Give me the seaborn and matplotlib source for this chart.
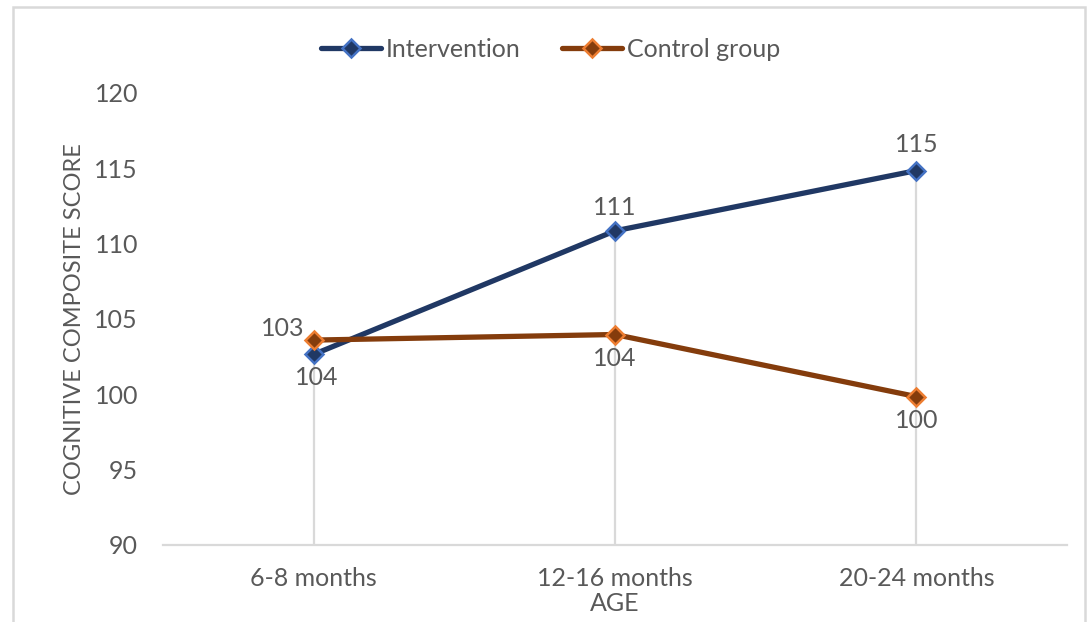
import matplotlib
matplotlib.use("Agg")
import matplotlib.pyplot as plt
from matplotlib.patches import Rectangle
import numpy as np
import pandas as pd
import seaborn as sns

# Data
ages = ["6-8 months", "12-16 months", "20-24 months"]
intervention = [102.65, 110.85, 114.85]
control = [103.6, 103.97, 99.85]
series_names = ["Intervention", "Control group"]

y_ticks = [90, 95, 100, 105, 110, 115, 120]

sns.set_theme(style="white")
plt.rcParams["font.family"] = ["Lato", "DejaVu Sans"]

text_color = "#595959"
grid_color = "#D9D9D9"
line_colors = {"Intervention": "#203864", "Control group": "#843C0C"}
edge_colors = {"Intervention": "#4472C4", "Control group": "#ED7D31"}
fs = 18

df = pd.DataFrame({
    "age": ages * 2,
    "score": intervention + control,
    "group": [series_names[0]] * 3 + [series_names[1]] * 3,
})

fig = plt.figure(figsize=(10.89, 6.22), dpi=100)
ax = fig.add_axes([0.1497, 0.1238, 0.8301, 0.7267])

# drop lines from the highest point at each age down to the axis
tops = np.maximum(intervention, control)
ax.vlines(range(len(ages)), 90, tops, color=grid_color, lw=1.6, zorder=1)

for name in series_names:
    sub = df[df["group"] == name]
    sns.lineplot(data=sub, x="age", y="score", ax=ax, color=line_colors[name],
                 linewidth=3.8, marker="D", markersize=9,
                 markerfacecolor=line_colors[name],
                 markeredgecolor=edge_colors[name], markeredgewidth=1.8,
                 label=name, zorder=3, sort=False)

# value labels: intervention above, control below
int_offsets = [(-22, 19), (0, 17), (0, 19)]
ctl_offsets = [(2, -27), (0, -17), (0, -17)]
for i, v in enumerate(intervention):
    ax.annotate(f"{v:.0f}", (i, v), xytext=int_offsets[i], textcoords="offset points",
                ha="center", va="center", fontsize=fs, color=text_color)
for i, v in enumerate(control):
    ax.annotate(f"{v:.0f}", (i, v), xytext=ctl_offsets[i], textcoords="offset points",
                ha="center", va="center", fontsize=fs, color=text_color)

ax.set_xlim(-0.5, len(ages) - 0.5)
ax.set_ylim(90, 120)
ax.set_yticks(y_ticks)
ax.set_xticks(range(len(ages)))
ax.set_xticklabels(ages)
ax.tick_params(axis="both", length=0, labelsize=fs, labelcolor=text_color)
ax.tick_params(axis="y", pad=18)
ax.tick_params(axis="x", pad=16)

for s in ["top", "right", "left"]:
    ax.spines[s].set_visible(False)
ax.spines["bottom"].set_color(grid_color)
ax.spines["bottom"].set_linewidth(1.6)
ax.grid(False)

ax.set_xlabel("AGE", fontsize=fs, color=text_color, labelpad=1)
ax.set_ylabel("COGNITIVE COMPOSITE SCORE", fontsize=17, color=text_color)
ax.yaxis.set_label_coords(-0.086, 0.5)

ax.legend(loc="center", bbox_to_anchor=(0.429, 1.097), ncol=2, frameon=False,
          fontsize=fs, labelcolor=text_color, handlelength=2.4,
          handletextpad=0.2, columnspacing=1.65)

# chart border
fig.patches.append(Rectangle((13 / 1089, -0.05), (1085 - 13) / 1089, 1.05 - 7 / 622,
                             transform=fig.transFigure, fill=False,
                             edgecolor=grid_color, lw=1.8))

fig.savefig("out.png", dpi=100, facecolor="white")
